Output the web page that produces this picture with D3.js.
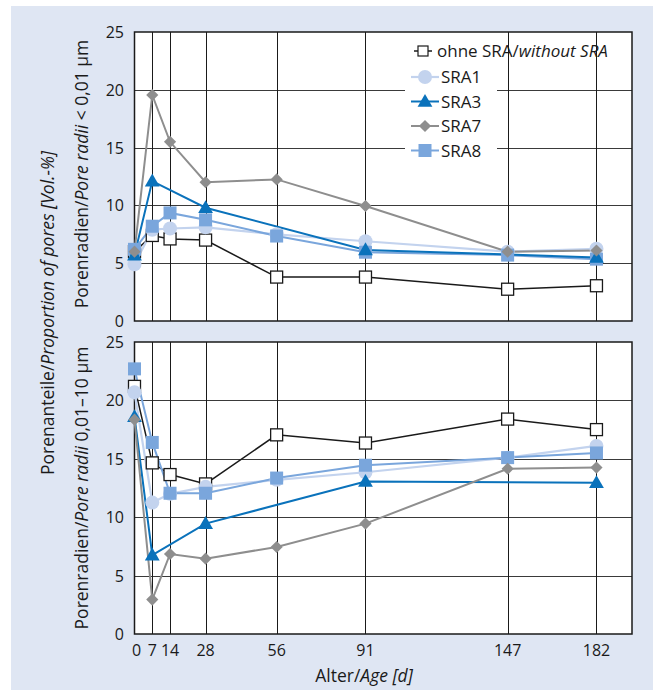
<!DOCTYPE html>
<html>
<head>
<meta charset="utf-8">
<script src="https://cdn.jsdelivr.net/npm/d3@7"></script>
<style>
  body { margin: 0; background: #fff; }
  text { font-family: "Open Sans", sans-serif; fill: #1a1a1a; }
</style>
</head>
<body>
<div id="chart"></div>
<script>
// ages in days
var days = [0, 7, 14, 28, 56, 91, 147, 182];
var xTicks = [0, 7, 14, 28, 56, 91, 147, 182];
var yTicks = [0, 5, 10, 15, 20, 25];

// top panel: pore radii < 0,01 um  (null = no point)
var topOhne = [6.0, 7.4, 7.1, 7.0, 3.8, 3.8, 2.75, 3.05];
var topSRA1 = [4.9, 7.9, 8.0, 8.1, 7.5, 6.9, 6.0, 6.25];
var topSRA3 = [5.7, 12.1, null, 9.8, null, 6.15, null, 5.5];
var topSRA7 = [6.0, 19.55, 15.5, 12.0, 12.25, 9.95, 6.0, 6.1];
var topSRA8 = [6.2, 8.2, 9.35, 8.75, 7.35, 5.95, 5.7, 5.35];

// bottom panel: pore radii 0,01-10 um
var botOhne = [21.2, 14.65, 13.65, 12.85, 17.05, 16.35, 18.4, 17.5];
var botSRA1 = [20.7, 11.25, 12.0, 12.6, 13.2, 13.85, 15.1, 16.1];
var botSRA3 = [18.6, 6.75, null, 9.45, null, 13.05, null, 12.95];
var botSRA7 = [18.35, 2.95, 6.85, 6.45, 7.45, 9.45, 14.15, 14.25];
var botSRA8 = [22.7, 16.4, 12.05, 12.05, 13.35, 14.45, 15.1, 15.5];

var W = 657, H = 690;
var svg = d3.select("#chart").append("svg").attr("width", W).attr("height", H);

svg.append("rect").attr("x", 11).attr("y", 6).attr("width", 642).attr("height", 690)
    .attr("fill", "#dfe6f3");

var x = d3.scaleLinear().domain([0, 196]).range([134.5, 632]);

var series = [
    { name: "ohne", color: "#1a1a1a", width: 1.5, sym: "open" },
    { name: "SRA1", color: "#c3d3ee", width: 2.2, sym: "circle" },
    { name: "SRA8", color: "#7aa6dc", width: 2, sym: "square" },
    { name: "SRA3", color: "#0a72bb", width: 2, sym: "triangle" },
    { name: "SRA7", color: "#8e8e8e", width: 2, sym: "diamond" }
];

function drawSymbol(g, s, cx, cy) {
    if (s.sym == "open") {
        g.append("rect").attr("x", cx - 6).attr("y", cy - 6).attr("width", 12).attr("height", 12)
            .attr("fill", "#fff").attr("stroke", "#1a1a1a").attr("stroke-width", 1.3);
    } else if (s.sym == "circle") {
        g.append("circle").attr("cx", cx).attr("cy", cy).attr("r", 7).attr("fill", s.color);
    } else if (s.sym == "square") {
        g.append("rect").attr("x", cx - 6.5).attr("y", cy - 6.5).attr("width", 13).attr("height", 13)
            .attr("fill", s.color);
    } else if (s.sym == "triangle") {
        g.append("path").attr("d", d3.symbol().type(d3.symbolTriangle).size(95)())
            .attr("transform", "translate(" + cx + "," + (cy + 1) + ")").attr("fill", s.color);
    } else {
        // square turned 45 degrees
        g.append("path").attr("d", d3.symbol().type(d3.symbolSquare).size(74)())
            .attr("transform", "translate(" + cx + "," + cy + ") rotate(45)").attr("fill", s.color);
    }
}

function panel(y0, y1, data, withXAxis) {
    var y = d3.scaleLinear().domain([0, 25]).range([y1, y0]);
    var g = svg.append("g");

    g.append("rect").attr("x", x(0)).attr("y", y0).attr("width", x(196) - x(0)).attr("height", y1 - y0)
        .attr("fill", "#fff");

    // grid
    g.selectAll(".hg").data(yTicks.slice(1, 5)).enter().append("line")
        .attr("x1", x(0)).attr("x2", x(196))
        .attr("y1", function(d) { return Math.round(y(d)) + 0.5; })
        .attr("y2", function(d) { return Math.round(y(d)) + 0.5; })
        .attr("stroke", "#3a3a3a").attr("stroke-width", 1);
    g.selectAll(".vg").data(xTicks.slice(1)).enter().append("line")
        .attr("y1", y0).attr("y2", y1)
        .attr("x1", function(d) { return Math.round(x(d)) + 0.5; })
        .attr("x2", function(d) { return Math.round(x(d)) + 0.5; })
        .attr("stroke", "#1a1a1a").attr("stroke-width", 1);

    g.append("rect").attr("x", x(0)).attr("y", y0).attr("width", x(196) - x(0)).attr("height", y1 - y0)
        .attr("fill", "none").attr("stroke", "#1a1a1a").attr("stroke-width", 1.5);

    // y tick labels
    g.selectAll(".yl").data(yTicks).enter().append("text")
        .attr("x", 124).attr("y", function(d) { return y(d) + 6; })
        .attr("text-anchor", "end").style("font-size", "16px")
        .text(function(d) { return d; });

    if (withXAxis) {
        g.selectAll(".xl").data(xTicks).enter().append("text")
            .attr("x", function(d) { return x(d) + (d == 0 ? 2 : 0); })
            .attr("y", 656).attr("text-anchor", "middle").style("font-size", "16px")
            .text(function(d) { return d; });
    }

    var line = d3.line()
        .x(function(d) { return x(d[0]); })
        .y(function(d) { return y(d[1]); });

    series.forEach(function(s, k) {
        var pts = days.map(function(d, i) { return [d, data[k][i]]; })
            .filter(function(p) { return p[1] != null; });
        g.append("path").datum(pts).attr("d", line)
            .attr("fill", "none").attr("stroke", s.color).attr("stroke-width", s.width);
    });
    series.forEach(function(s, k) {
        days.forEach(function(d, i) {
            if (data[k][i] != null) drawSymbol(g, s, x(d), y(data[k][i]));
        });
    });
    return g;
}

panel(32, 321, [topOhne, topSRA1, topSRA8, topSRA3, topSRA7], false);
panel(342, 634, [botOhne, botSRA1, botSRA8, botSRA3, botSRA7], true);

// legend
var lg = svg.append("g");
lg.append("rect").attr("x", 405).attr("y", 63).attr("width", 92).attr("height", 98).attr("fill", "#fff");
var legendRows = [
    { s: series[0], label: ["ohne SRA/", "without SRA"], y: 51 },
    { s: series[1], label: ["SRA1"], y: 77 },
    { s: series[3], label: ["SRA3"], y: 101.5 },
    { s: series[4], label: ["SRA7"], y: 126 },
    { s: series[2], label: ["SRA8"], y: 150.5 }
];
legendRows.forEach(function(r, i) {
    var cx = i == 0 ? 423 : 425;
    var half = i == 0 ? 9 : 14;
    lg.append("line").attr("x1", cx - half).attr("x2", cx + half).attr("y1", r.y).attr("y2", r.y)
        .attr("stroke", r.s.color).attr("stroke-width", r.s.width);
    if (i == 0) {
        lg.append("rect").attr("x", cx - 5).attr("y", r.y - 5).attr("width", 10).attr("height", 10)
            .attr("fill", "#fff").attr("stroke", "#1a1a1a").attr("stroke-width", 1.2);
    } else {
        drawSymbol(lg, r.s, cx, r.y);
    }
    var t = lg.append("text").attr("x", i == 0 ? 437 : 441).attr("y", r.y + 6).style("font-size", "17px");
    t.append("tspan").text(r.label[0]);
    if (r.label[1]) t.append("tspan").style("font-style", "italic").text(r.label[1]);
});

// axis titles
var xt = svg.append("text").attr("x", 364).attr("y", 682).attr("text-anchor", "middle").style("font-size", "17.5px");
xt.append("tspan").text("Alter/");
xt.append("tspan").style("font-style", "italic").text("Age [d]");

function vTitle(cx, cy, parts) {
    var t = svg.append("text").attr("transform", "translate(" + cx + "," + cy + ") rotate(-90)")
        .attr("text-anchor", "middle").style("font-size", "17.5px");
    parts.forEach(function(p) {
        var sp = t.append("tspan").text(p[0]);
        if (p[1]) sp.style("font-style", "italic");
    });
}
vTitle(54, 313, [["Porenanteile/"], ["Proportion of pores [Vol.-%]", true]]);
vTitle(88, 174, [["Porenradien/"], ["Pore radii", true], [" < 0,01 µm"]]);
vTitle(88, 488, [["Porenradien/"], ["Pore radii", true], [" 0,01–10 µm"]]);
</script>
</body>
</html>
